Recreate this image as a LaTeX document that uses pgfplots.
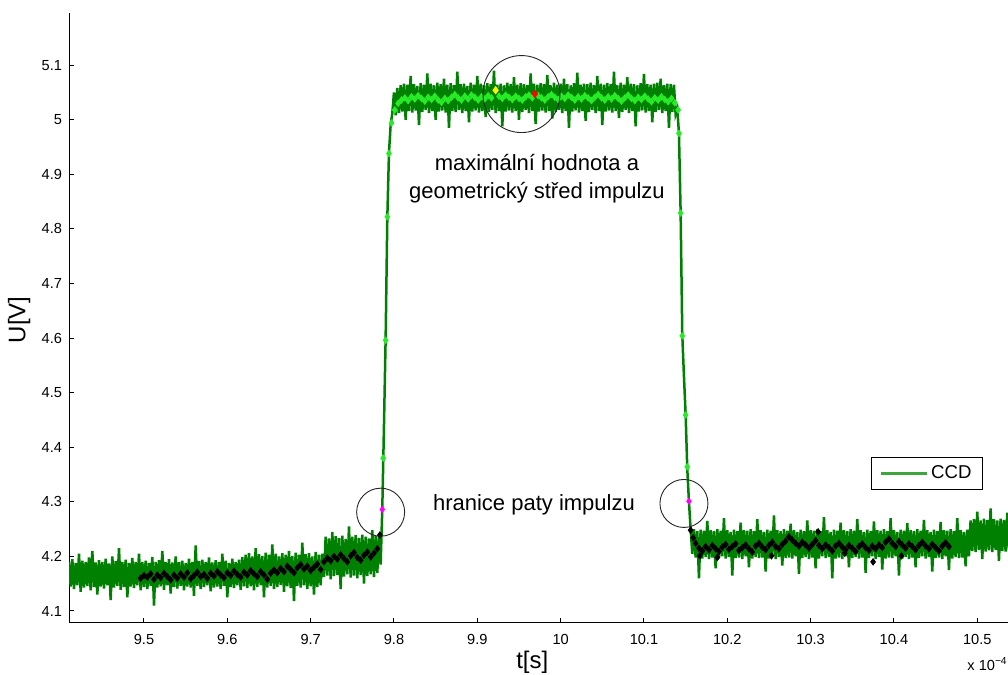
\documentclass[border=0pt]{standalone}
\usepackage{pgfplots}
\pgfplotsset{compat=1.18}
\usepackage{fontspec}
\setmainfont{Liberation Sans}
\definecolor{ccd}{RGB}{0,128,0}
\definecolor{ccdleg}{RGB}{60,165,60}
\definecolor{limeg}{RGB}{40,235,40}
\definecolor{magent}{RGB}{255,0,255}
\begin{document}
\begin{tikzpicture}
\useasboundingbox (0,0) rectangle (504pt,337.5pt);
\clip (0,0) rectangle (504pt,337.5pt);
\begin{axis}[
  at={(34.5pt,26pt)}, anchor=south west,
  scale only axis, width=470.8pt, height=305pt,
  xmin=9.41, xmax=10.54, ymin=4.078, ymax=5.1955,
  axis lines*=left, axis line style={line width=0.5pt, black},
  tick align=inside, major tick length=2.5pt,
  tick style={black, line width=0.5pt},
  xtick={9.5,9.6,9.7,9.8,9.9,10,10.1,10.2,10.3,10.4,10.5},
  ytick={4.1,4.2,4.3,4.4,4.5,4.6,4.7,4.8,4.9,5,5.1},
  /pgf/number format/assume math mode=true,
  ticklabel style={font=\fontsize{7.3}{8}\selectfont},
  xticklabel style={yshift=-2pt},
  xlabel={t[s]}, ylabel={U[V]},
  label style={font=\fontsize{12}{14}\selectfont},
  xlabel style={at={(axis description cs:0.492,-0.064)}, anchor=center},
  ylabel style={at={(axis description cs:-0.053,0.497)}, anchor=center, rotate=0},
  legend style={at={(axis cs:10.373,4.3816)}, anchor=north west,
    draw=black, font=\fontsize{9.3}{10}\selectfont,
    inner xsep=4pt, inner ysep=2.3pt, nodes={inner sep=1.6pt}},
]
% CCD signal: samples alternate between the upper and lower edge of the noise band
\addplot[ccd, line width=1.25pt,
  legend image code/.code={\draw[ccdleg, line width=1.1pt] (0pt,0pt) -- (23pt,0pt);}] coordinates {
(9.410,4.190)(9.412,4.145)(9.414,4.195)(9.416,4.140)(9.418,4.188)(9.420,4.147)(9.422,4.205)(9.424,4.135)(9.426,4.192)(9.428,4.143)
(9.430,4.190)(9.432,4.146)(9.434,4.198)(9.436,4.138)(9.438,4.210)(9.440,4.144)(9.442,4.189)(9.444,4.130)(9.446,4.193)(9.448,4.145)
(9.450,4.190)(9.452,4.141)(9.454,4.196)(9.456,4.147)(9.458,4.187)(9.460,4.120)(9.462,4.200)(9.464,4.143)(9.466,4.191)(9.468,4.146)
(9.470,4.215)(9.472,4.139)(9.474,4.190)(9.476,4.144)(9.478,4.194)(9.480,4.125)(9.482,4.188)(9.484,4.145)(9.486,4.197)(9.488,4.142)
(9.490,4.190)(9.492,4.147)(9.494,4.205)(9.496,4.138)(9.498,4.190)(9.500,4.144)(9.502,4.192)(9.504,4.140)(9.506,4.188)(9.508,4.146)
(9.510,4.199)(9.512,4.110)(9.514,4.190)(9.516,4.143)(9.518,4.193)(9.520,4.145)(9.522,4.210)(9.524,4.139)(9.526,4.190)(9.528,4.147)
(9.530,4.195)(9.532,4.132)(9.534,4.189)(9.536,4.144)(9.538,4.200)(9.540,4.141)(9.542,4.190)(9.544,4.146)(9.546,4.192)(9.548,4.138)
(9.550,4.188)(9.552,4.145)(9.554,4.196)(9.556,4.143)(9.558,4.190)(9.560,4.128)(9.562,4.220)(9.564,4.146)(9.566,4.191)(9.568,4.140)
(9.570,4.194)(9.572,4.144)(9.574,4.190)(9.576,4.147)(9.578,4.198)(9.580,4.136)(9.582,4.189)(9.584,4.143)(9.586,4.193)(9.588,4.145)
(9.590,4.190)(9.592,4.140)(9.594,4.205)(9.596,4.146)(9.598,4.192)(9.600,4.125)(9.602,4.188)(9.604,4.144)(9.606,4.196)(9.608,4.142)
(9.610,4.190)(9.612,4.147)(9.614,4.194)(9.616,4.139)(9.618,4.199)(9.620,4.145)
(9.622,4.203)(9.624,4.142)(9.626,4.206)(9.628,4.145)(9.630,4.200)(9.632,4.138)(9.634,4.215)(9.636,4.144)(9.638,4.204)(9.640,4.147)
(9.642,4.201)(9.644,4.125)(9.646,4.207)(9.648,4.143)(9.650,4.203)(9.652,4.146)(9.654,4.222)(9.656,4.140)(9.658,4.205)(9.660,4.144)
(9.662,4.200)(9.664,4.148)(9.666,4.206)(9.668,4.135)(9.670,4.203)(9.672,4.145)(9.674,4.210)(9.676,4.142)(9.678,4.201)(9.680,4.118)
(9.682,4.207)(9.684,4.146)(9.686,4.203)(9.688,4.143)(9.690,4.225)(9.692,4.147)(9.694,4.204)(9.696,4.140)(9.698,4.206)(9.700,4.145)
(9.702,4.200)(9.704,4.130)(9.706,4.208)(9.708,4.144)(9.710,4.203)(9.712,4.147)(9.714,4.205)
(9.716,4.162)(9.718,4.236)(9.720,4.165)(9.722,4.233)(9.724,4.158)(9.726,4.245)(9.728,4.164)(9.730,4.237)(9.732,4.166)(9.734,4.234)
(9.736,4.140)(9.738,4.238)(9.740,4.163)(9.742,4.232)(9.744,4.167)(9.746,4.255)(9.748,4.161)(9.750,4.236)(9.752,4.165)(9.754,4.239)
(9.756,4.160)(9.758,4.234)(9.760,4.166)(9.762,4.240)(9.764,4.150)(9.766,4.236)(9.768,4.164)(9.770,4.233)(9.772,4.167)(9.774,4.248)
(9.776,4.162)(9.778,4.237)(9.780,4.170)(9.782,4.238)(9.784,4.185)
(9.786,4.290)(9.788,4.440)(9.790,4.600)(9.792,4.820)(9.794,4.940)(9.796,4.990)(9.798,5.012)
(9.800,5.050)(9.802,5.008)(9.804,5.058)(9.806,5.012)(9.808,5.063)(9.810,5.015)(9.812,5.066)(9.814,5.000)(9.816,5.064)(9.818,5.016)
(9.820,5.080)(9.822,5.013)(9.824,5.065)(9.826,5.017)(9.828,5.062)(9.830,4.990)(9.832,5.067)(9.834,5.014)(9.836,5.064)(9.838,5.018)
(9.840,5.085)(9.842,5.012)(9.844,5.066)(9.846,5.016)(9.848,5.063)(9.850,5.000)(9.852,5.068)(9.854,5.015)(9.856,5.065)(9.858,5.017)
(9.860,5.075)(9.862,5.013)(9.864,5.064)(9.866,4.985)(9.868,5.067)(9.870,5.016)(9.872,5.063)(9.874,5.014)(9.876,5.088)(9.878,5.018)
(9.880,5.065)(9.882,5.012)(9.884,5.066)(9.886,5.016)(9.888,5.062)(9.890,4.995)(9.892,5.068)(9.894,5.015)(9.896,5.064)(9.898,5.017)
(9.900,5.080)(9.902,5.013)(9.904,5.066)(9.906,5.016)(9.908,5.063)(9.910,5.005)(9.912,5.067)(9.914,5.014)(9.916,5.065)(9.918,5.018)
(9.920,5.090)(9.922,5.012)(9.924,5.064)(9.926,5.016)(9.928,5.066)(9.930,4.988)(9.932,5.063)(9.934,5.015)(9.936,5.068)(9.938,5.017)
(9.940,5.065)(9.942,5.013)(9.944,5.078)(9.946,5.016)(9.948,5.064)(9.950,5.000)(9.952,5.067)(9.954,5.014)(9.956,5.065)(9.958,5.018)
(9.960,5.063)(9.962,5.012)(9.964,5.085)(9.966,5.016)(9.968,5.066)(9.970,4.992)(9.972,5.064)(9.974,5.015)(9.976,5.067)(9.978,5.017)
(9.980,5.065)(9.982,5.013)(9.984,5.082)(9.986,5.016)(9.988,5.063)(9.990,5.002)(9.992,5.068)(9.994,5.014)(9.996,5.064)(9.998,5.018)
(10.000,5.066)(10.002,5.012)(10.004,5.075)(10.006,5.016)(10.008,5.065)(10.010,4.985)(10.012,5.063)(10.014,5.015)(10.016,5.067)(10.018,5.017)
(10.020,5.086)(10.022,5.013)(10.024,5.064)(10.026,5.016)(10.028,5.066)(10.030,4.998)(10.032,5.065)(10.034,5.014)(10.036,5.068)(10.038,5.018)
(10.040,5.063)(10.042,5.012)(10.044,5.080)(10.046,5.016)(10.048,5.066)(10.050,4.990)(10.052,5.064)(10.054,5.015)(10.056,5.067)(10.058,5.017)
(10.060,5.065)(10.062,5.013)(10.064,5.088)(10.066,5.016)(10.068,5.063)(10.070,5.003)(10.072,5.068)(10.074,5.014)(10.076,5.064)(10.078,5.018)
(10.080,5.078)(10.082,5.012)(10.084,5.066)(10.086,5.016)(10.088,5.065)(10.090,4.988)(10.092,5.063)(10.094,5.015)(10.096,5.067)(10.098,5.017)
(10.100,5.084)(10.102,5.013)(10.104,5.065)(10.106,5.016)(10.108,5.064)(10.110,4.995)(10.112,5.066)(10.114,5.014)(10.116,5.068)(10.118,5.018)
(10.120,5.075)(10.122,5.012)(10.124,5.063)(10.126,5.016)(10.128,5.066)(10.130,4.985)(10.132,5.065)(10.134,5.014)(10.136,5.064)(10.138,5.010)
(10.140,5.020)(10.142,4.975)(10.144,4.830)(10.146,4.605)(10.148,4.530)(10.150,4.460)(10.152,4.360)(10.154,4.300)(10.156,4.250)
(10.158,4.205)(10.160,4.250)(10.162,4.198)(10.164,4.246)(10.166,4.160)(10.168,4.249)(10.170,4.196)(10.172,4.247)(10.174,4.199)(10.176,4.265)
(10.178,4.195)(10.180,4.248)(10.182,4.198)(10.184,4.246)(10.186,4.178)(10.188,4.250)(10.190,4.197)(10.192,4.247)(10.194,4.200)(10.196,4.270)
(10.198,4.196)(10.200,4.248)(10.202,4.199)(10.204,4.245)(10.206,4.165)(10.208,4.249)(10.210,4.197)(10.212,4.246)(10.214,4.198)(10.216,4.262)
(10.218,4.195)(10.220,4.248)(10.222,4.200)(10.224,4.247)(10.226,4.180)(10.228,4.250)(10.230,4.196)(10.232,4.246)(10.234,4.199)(10.236,4.268)
(10.238,4.197)(10.240,4.248)(10.242,4.198)(10.244,4.245)(10.246,4.172)(10.248,4.249)(10.250,4.196)(10.252,4.247)(10.254,4.200)(10.256,4.275)
(10.258,4.195)(10.260,4.248)(10.262,4.199)(10.264,4.246)(10.266,4.183)(10.268,4.250)(10.270,4.197)(10.272,4.247)(10.274,4.198)(10.276,4.260)
(10.278,4.196)(10.280,4.248)(10.282,4.200)(10.284,4.245)(10.286,4.168)(10.288,4.249)(10.290,4.197)(10.292,4.246)(10.294,4.199)(10.296,4.266)
(10.298,4.195)(10.300,4.248)(10.302,4.198)(10.304,4.247)(10.306,4.178)(10.308,4.250)(10.310,4.196)(10.312,4.246)(10.314,4.200)(10.316,4.272)
(10.318,4.197)(10.320,4.248)(10.322,4.199)(10.324,4.245)(10.326,4.160)(10.328,4.249)(10.330,4.196)(10.332,4.247)(10.334,4.198)(10.336,4.262)
(10.338,4.195)(10.340,4.248)(10.342,4.200)(10.344,4.246)(10.346,4.180)(10.348,4.250)(10.350,4.197)(10.352,4.247)(10.354,4.199)(10.356,4.268)
(10.358,4.196)(10.360,4.248)(10.362,4.198)(10.364,4.245)(10.366,4.170)(10.368,4.249)(10.370,4.197)(10.372,4.246)(10.374,4.200)(10.376,4.264)
(10.378,4.195)(10.380,4.248)(10.382,4.199)(10.384,4.247)(10.386,4.176)(10.388,4.250)(10.390,4.196)(10.392,4.246)(10.394,4.198)(10.396,4.270)
(10.398,4.197)(10.400,4.248)(10.402,4.200)(10.404,4.245)(10.406,4.165)(10.408,4.249)(10.410,4.196)(10.412,4.247)(10.414,4.199)(10.416,4.261)
(10.418,4.195)(10.420,4.248)(10.422,4.198)(10.424,4.246)(10.426,4.180)(10.428,4.250)(10.430,4.197)(10.432,4.247)(10.434,4.200)(10.436,4.267)
(10.438,4.196)(10.440,4.248)(10.442,4.199)(10.444,4.245)(10.446,4.172)(10.448,4.249)(10.450,4.197)(10.452,4.246)(10.454,4.198)(10.456,4.263)
(10.458,4.195)(10.460,4.248)(10.462,4.200)(10.464,4.247)(10.466,4.175)(10.468,4.250)(10.470,4.196)(10.472,4.246)(10.474,4.199)(10.476,4.270)
(10.478,4.197)(10.480,4.248)(10.482,4.198)(10.484,4.245)(10.486,4.182)(10.488,4.249)(10.490,4.200)
(10.492,4.266)(10.494,4.210)(10.496,4.268)(10.498,4.208)(10.500,4.282)(10.502,4.212)(10.504,4.266)(10.506,4.195)(10.508,4.269)(10.510,4.209)
(10.512,4.267)(10.514,4.211)(10.516,4.288)(10.518,4.208)(10.520,4.268)(10.522,4.212)(10.524,4.266)(10.526,4.192)(10.528,4.269)(10.530,4.210)
(10.532,4.267)(10.534,4.209)(10.536,4.280)(10.538,4.211)(10.540,4.268)
};
\addlegendentry{CCD}
% baseline samples before and after the pulse
\addplot[forget plot, only marks, mark=diamond*, mark size=1.6pt, black] coordinates {
(9.496,4.160)(9.500,4.165)(9.504,4.162)(9.508,4.168)(9.512,4.158)(9.516,4.166)(9.520,4.161)(9.524,4.169)(9.528,4.163)(9.532,4.157)
(9.536,4.166)(9.540,4.160)(9.544,4.168)(9.548,4.162)(9.552,4.170)(9.556,4.159)(9.560,4.165)(9.564,4.171)(9.568,4.163)(9.572,4.167)
(9.576,4.160)(9.580,4.169)(9.584,4.164)(9.588,4.172)(9.592,4.166)(9.596,4.161)(9.600,4.170)(9.604,4.165)(9.608,4.173)(9.612,4.167)
(9.616,4.162)(9.620,4.171)(9.624,4.166)(9.628,4.174)(9.632,4.168)(9.636,4.163)(9.640,4.172)(9.644,4.166)(9.648,4.158)(9.652,4.169)
(9.656,4.175)(9.660,4.170)(9.664,4.178)(9.668,4.172)(9.672,4.182)(9.676,4.176)(9.680,4.170)(9.684,4.179)(9.688,4.185)(9.692,4.177)
(9.696,4.182)(9.700,4.174)(9.704,4.180)(9.708,4.186)(9.712,4.176)(9.716,4.190)(9.720,4.197)(9.724,4.192)(9.728,4.200)(9.732,4.195)
(9.736,4.203)(9.740,4.196)(9.744,4.190)(9.748,4.201)(9.752,4.207)(9.756,4.198)(9.760,4.193)(9.764,4.202)(9.768,4.208)(9.772,4.199)
(9.776,4.206)(9.780,4.214)(9.783,4.239)
(10.156,4.248)(10.159,4.234)(10.162,4.224)(10.166,4.215)(10.170,4.210)(10.174,4.218)(10.178,4.212)(10.182,4.220)(10.186,4.214)(10.190,4.209)
(10.194,4.217)(10.198,4.222)(10.202,4.213)(10.206,4.218)(10.210,4.223)(10.214,4.211)(10.218,4.216)(10.222,4.221)(10.226,4.214)(10.230,4.208)
(10.234,4.219)(10.238,4.224)(10.242,4.217)(10.246,4.212)(10.250,4.220)(10.254,4.226)(10.258,4.218)(10.262,4.214)(10.266,4.222)(10.270,4.228)
(10.274,4.236)(10.278,4.230)(10.282,4.224)(10.286,4.219)(10.290,4.226)(10.294,4.221)(10.298,4.215)(10.302,4.222)(10.306,4.229)(10.310,4.220)
(10.314,4.214)(10.318,4.221)(10.322,4.216)(10.326,4.210)(10.330,4.219)(10.334,4.224)(10.338,4.217)(10.342,4.212)(10.346,4.220)(10.350,4.215)
(10.354,4.209)(10.358,4.218)(10.362,4.223)(10.366,4.216)(10.370,4.211)(10.374,4.219)(10.378,4.214)(10.382,4.221)(10.386,4.216)(10.390,4.226)
(10.394,4.232)(10.398,4.224)(10.402,4.218)(10.406,4.227)(10.410,4.221)(10.414,4.215)(10.418,4.223)(10.422,4.218)(10.426,4.212)(10.430,4.220)
(10.434,4.226)(10.438,4.219)(10.442,4.214)(10.446,4.222)(10.450,4.216)(10.454,4.210)(10.458,4.219)(10.462,4.225)(10.466,4.218)
(10.167,4.201)(10.188,4.198)(10.253,4.201)(10.309,4.245)(10.341,4.206)(10.375,4.190)(10.409,4.201)
};
% samples on the pulse top and on both edges
\addplot[forget plot, only marks, mark=diamond*, mark size=1.6pt, limeg] coordinates {
(9.787,4.380)(9.790,4.596)(9.792,4.822)(9.794,4.938)
(9.797,4.994)(9.801,5.018)(9.805,5.030)(9.809,5.036)(9.813,5.040)(9.817,5.035)(9.821,5.042)(9.825,5.038)(9.829,5.044)(9.833,5.039)
(9.837,5.034)(9.841,5.041)(9.845,5.037)(9.849,5.043)(9.853,5.036)(9.857,5.032)(9.861,5.039)(9.865,5.035)(9.869,5.041)(9.873,5.046)
(9.877,5.040)(9.881,5.036)(9.885,5.043)(9.889,5.038)(9.893,5.045)(9.897,5.041)(9.901,5.036)(9.905,5.042)(9.909,5.038)(9.913,5.044)
(9.917,5.040)(9.926,5.043)(9.930,5.039)(9.934,5.045)(9.938,5.041)(9.942,5.037)(9.946,5.043)(9.950,5.039)(9.954,5.036)(9.958,5.042)
(9.962,5.045)(9.966,5.040)(9.973,5.044)(9.977,5.040)(9.981,5.036)(9.985,5.042)(9.989,5.046)(9.993,5.041)(9.997,5.037)(10.001,5.043)
(10.005,5.039)(10.009,5.045)(10.013,5.041)(10.017,5.036)(10.021,5.042)(10.025,5.038)(10.029,5.044)(10.033,5.040)(10.037,5.035)(10.041,5.041)
(10.045,5.046)(10.049,5.040)(10.053,5.036)(10.057,5.042)(10.061,5.038)(10.065,5.044)(10.069,5.039)(10.073,5.034)(10.077,5.040)(10.081,5.045)
(10.085,5.039)(10.089,5.035)(10.093,5.041)(10.097,5.037)(10.101,5.043)(10.105,5.038)(10.109,5.033)(10.113,5.040)(10.117,5.036)(10.121,5.042)
(10.125,5.037)(10.129,5.033)(10.133,5.039)(10.137,5.031)(10.141,5.018)
(10.142,4.975)(10.144,4.829)(10.146,4.604)(10.150,4.459)(10.152,4.364)
};
% maximum and geometric centre of the pulse
\addplot[forget plot, only marks, mark=diamond*, mark size=1.8pt, yellow] coordinates {(9.922,5.054)};
\addplot[forget plot, only marks, mark=diamond*, mark size=1.8pt, red] coordinates {(9.969,5.047)};
% pulse foot boundaries
\addplot[forget plot, only marks, mark=diamond*, mark size=1.5pt, magent] coordinates {(9.786,4.286)(10.154,4.301)};
% highlight circles
\addplot[forget plot, only marks, mark=o, mark size=12pt, black!85, mark options={line width=0.45pt}] coordinates {(9.784,4.281)(10.148,4.297)};
\addplot[forget plot, only marks, mark=o, mark size=19.25pt, black!85, mark options={line width=0.45pt}] coordinates {(9.953,5.047)};
% annotations
\node[font=\fontsize{11}{13}\selectfont] at (axis cs:9.9716,4.921) {maximální hodnota a};
\node[font=\fontsize{11}{13}\selectfont] at (axis cs:9.9716,4.866) {geometrický střed impulzu};
\node[font=\fontsize{11}{13}\selectfont] at (axis cs:9.968,4.294) {hranice paty impulzu};
\end{axis}
\node[anchor=west, font=\fontsize{7.3}{8}\selectfont, inner sep=0pt] at (483.5pt,5.5pt) {x 10\textsuperscript{−4}};
\end{tikzpicture}
\end{document}
